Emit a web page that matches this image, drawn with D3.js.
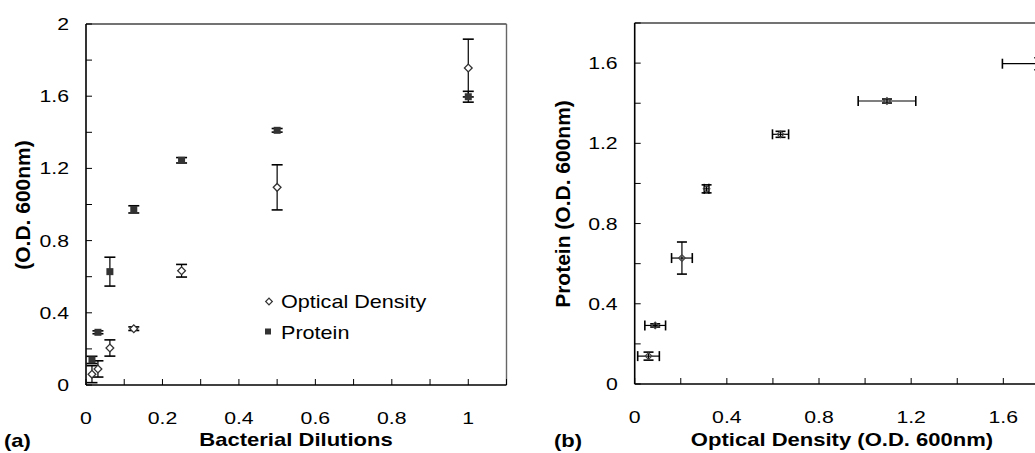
<!DOCTYPE html>
<html>
<head>
<meta charset="utf-8">
<script src="https://cdn.jsdelivr.net/npm/d3@7"></script>
<style>
  body { margin: 0; background: #fff; }
  text { font-family: "Liberation Sans", Arial, sans-serif; fill: #000; }
</style>
</head>
<body>
<div id="chart"></div>
<script>
// data
var dilutions   = [0.0156, 0.03125, 0.0625, 0.125, 0.25, 0.5, 1];
var odMean      = [0.06, 0.089, 0.205, 0.312, 0.633, 1.095, 1.756];
var odErr       = [0.047, 0.045, 0.045, 0.01, 0.035, 0.125, 0.16];
var proteinMean = [0.139, 0.292, 0.628, 0.973, 1.245, 1.411, 1.597];
var proteinErr  = [0.02, 0.008, 0.08, 0.02, 0.015, 0.01, 0.03];

var tickLabelsA_x = [0, 0.2, 0.4, 0.6, 0.8, 1];
var tickLabelsA_y = [0, 0.4, 0.8, 1.2, 1.6, 2];
var tickLabelsB = [0, 0.4, 0.8, 1.2, 1.6];

var rows = dilutions.map(function(d, i) {
  return {dil: d, od: odMean[i], odE: odErr[i], pr: proteinMean[i], prE: proteinErr[i]};
});

var W = 1035, H = 453;
var SX = 1.22; // the source picture text is a bit wider than plain Arial
var svg = d3.select("#chart").append("svg")
  .attr("width", W).attr("height", H);

var fmt = function(d) { return d === 0 ? "0" : String(+d.toFixed(1)); };

// horizontal text, stretched a little along x
function label(parent, x, y, txt, size, anchor, bold, sx) {
  return parent.append("text")
    .attr("transform", "translate(" + x + "," + y + ") scale(" + (sx || SX) + ",1)")
    .attr("text-anchor", anchor || "start")
    .style("font-size", size + "px")
    .style("font-weight", bold ? "bold" : null)
    .text(txt);
}

function drawFrame(x, y, xLabels, yLabels, xMinor, yMinor, full) {
  var x0 = x.range()[0], x1 = x.range()[1];
  var y0 = y.range()[0], y1 = y.range()[1];
  var g = svg.append("g");

  // top / right border
  g.append("line").attr("x1", x0).attr("x2", x1).attr("y1", y1).attr("y2", y1)
    .attr("stroke", "#444").attr("stroke-width", 1.4);
  if (full) {
    g.append("line").attr("x1", x1).attr("x2", x1).attr("y1", y1).attr("y2", y0)
      .attr("stroke", "#666").attr("stroke-width", 1.4);
  }

  // ticks point inward
  g.selectAll(".xt").data(xMinor).enter().append("line")
    .attr("x1", function(d) { return x(d); }).attr("x2", function(d) { return x(d); })
    .attr("y1", y0).attr("y2", y0 - 6).attr("stroke", "#000").attr("stroke-width", 1);
  g.selectAll(".yt").data(yMinor).enter().append("line")
    .attr("y1", function(d) { return y(d); }).attr("y2", function(d) { return y(d); })
    .attr("x1", x0).attr("x2", x0 + 6).attr("stroke", "#000").attr("stroke-width", 1);

  // axis lines
  g.append("line").attr("x1", x0).attr("x2", x1).attr("y1", y0).attr("y2", y0)
    .attr("stroke", "#000").attr("stroke-width", 1.6);
  g.append("line").attr("x1", x0).attr("x2", x0).attr("y1", y0).attr("y2", y1)
    .attr("stroke", "#000").attr("stroke-width", 1.6);

  xLabels.forEach(function(d) {
    label(g, x(d), y0 + 38.5, fmt(d), 17, "middle", false, 1.25);
  });
  yLabels.forEach(function(d) {
    label(g, x0 - 17, y(d) + 6, fmt(d), 17, "end", false, 1.25);
  });
  return g;
}

function errY(g, x, y, cx, cy, e, cap) {
  g.append("line").attr("x1", x(cx)).attr("x2", x(cx))
    .attr("y1", y(cy - e)).attr("y2", y(cy + e)).attr("stroke", "#000").attr("stroke-width", 1.2);
  [cy - e, cy + e].forEach(function(v) {
    g.append("line").attr("x1", x(cx) - cap).attr("x2", x(cx) + cap)
      .attr("y1", y(v)).attr("y2", y(v)).attr("stroke", "#000").attr("stroke-width", 1.6);
  });
}
function errX(g, x, y, cx, cy, e, cap) {
  g.append("line").attr("y1", y(cy)).attr("y2", y(cy))
    .attr("x1", x(cx - e)).attr("x2", x(cx + e)).attr("stroke", "#000").attr("stroke-width", 1.2);
  [cx - e, cx + e].forEach(function(v) {
    g.append("line").attr("y1", y(cy) - cap).attr("y2", y(cy) + cap)
      .attr("x1", x(v)).attr("x2", x(v)).attr("stroke", "#000").attr("stroke-width", 1.6);
  });
}

// a square turned 45 degrees
var diamondA = d3.symbol().type(d3.symbolSquare).size(30);
var diamondB = d3.symbol().type(d3.symbolSquare).size(22);

// ---------- panel (a) ----------
var xa = d3.scaleLinear().domain([0, 1.1]).range([86, 506.5]);
var ya = d3.scaleLinear().domain([0, 2]).range([385, 24]);
var ga = drawFrame(xa, ya, tickLabelsA_x, tickLabelsA_y,
  d3.range(0, 1.1001, 0.1), d3.range(0, 2.0001, 0.2), true);

var pa = ga.append("g");
rows.forEach(function(r) { errY(pa, xa, ya, r.dil, r.od, r.odE, 5.5); });
rows.forEach(function(r) { errY(pa, xa, ya, r.dil, r.pr, r.prE, 5.5); });
pa.selectAll(".sq").data(rows).enter().append("rect")
  .attr("x", function(d) { return xa(d.dil) - 3.5; })
  .attr("y", function(d) { return ya(d.pr) - 3.5; })
  .attr("width", 7).attr("height", 7).attr("fill", "#333");
pa.selectAll(".dm").data(rows).enter().append("path")
  .attr("d", diamondA)
  .attr("transform", function(d) { return "translate(" + xa(d.dil) + "," + ya(d.od) + ") rotate(45)"; })
  .attr("fill", "#fff").attr("stroke", "#333").attr("stroke-width", 1.3);

// legend
var lg = ga.append("g");
lg.append("path").attr("d", d3.symbol().type(d3.symbolSquare).size(22))
  .attr("transform", "translate(269,301.5) rotate(45)")
  .attr("fill", "#fff").attr("stroke", "#333").attr("stroke-width", 1.2);
label(lg, 281, 308, "Optical Density", 18, "start", false, 1.2);
lg.append("rect").attr("x", 265).attr("y", 328.5).attr("width", 6).attr("height", 6).attr("fill", "#333");
label(lg, 281, 338.5, "Protein", 18, "start", false, 1.2);

label(svg, 296, 445.5, "Bacterial Dilutions", 19, "middle", true, 1.16);
svg.append("text").attr("transform", "translate(30,205) rotate(-90)").attr("text-anchor", "middle")
  .style("font-size", "21px").style("font-weight", "bold").text("(O.D. 600nm)");
label(svg, 4, 447, "(a)", 18, "start", true, 1.22);

// ---------- panel (b) ----------
var xb = d3.scaleLinear().domain([0, 1.8]).range([634.7, 1049.4]);
var yb = d3.scaleLinear().domain([0, 1.8]).range([384, 23]);
var gb = drawFrame(xb, yb, tickLabelsB, tickLabelsB,
  d3.range(0, 1.8001, 0.2), d3.range(0, 1.8001, 0.2), false);

var pb = gb.append("g");
rows.forEach(function(r) {
  errX(pb, xb, yb, r.od, r.pr, r.odE, 5);
  errY(pb, xb, yb, r.od, r.pr, r.prE, 5);
});
pb.selectAll(".dm").data(rows).enter().append("path")
  .attr("d", diamondB)
  .attr("transform", function(d) { return "translate(" + xb(d.od) + "," + yb(d.pr) + ") rotate(45)"; })
  .attr("fill", "none").attr("stroke", "#444").attr("stroke-width", 1.2);

label(svg, 842, 445.5, "Optical Density (O.D. 600nm)", 19, "middle", true, 1.16);
svg.append("text").attr("transform", "translate(570,204) rotate(-90)").attr("text-anchor", "middle")
  .style("font-size", "21px").style("font-weight", "bold").text("Protein (O.D. 600nm)");
label(svg, 554, 447, "(b)", 18, "start", true, 1.22);
</script>
</body>
</html>
